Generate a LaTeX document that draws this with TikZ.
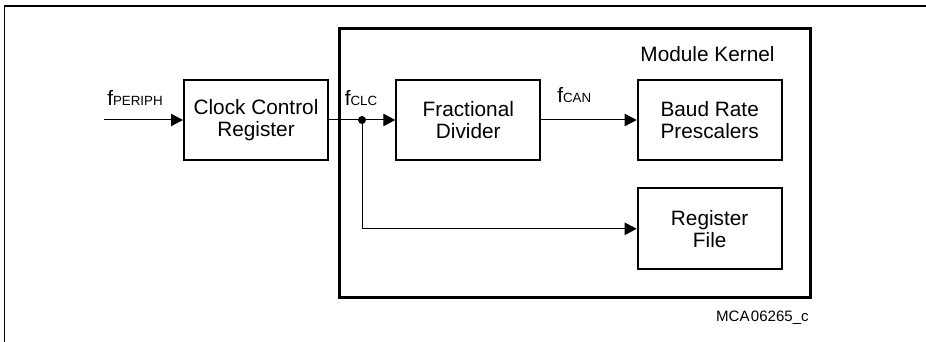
\documentclass[tikz,border=0pt]{standalone}
\usepackage{fontspec}
\setmainfont{Liberation Sans}
\usetikzlibrary{arrows.meta}
\begin{document}
\begin{tikzpicture}[x=0.75pt,y=-0.75pt,
  blk/.style={draw,line width=1.5pt,minimum width=108pt,minimum height=60pt,inner sep=0pt,align=center,font=\fontsize{15.6}{16.7}\selectfont},
  sig/.style={line width=0.75pt,-{Triangle[length=9pt,width=9.3pt]}},
  lbl/.style={inner sep=0pt,font=\fontsize{15.6}{16.7}\selectfont},
  subs/.style={}]
\useasboundingbox (0,0) rectangle (926,342);
\draw[line width=1.2pt] (4.3,342) -- (4.3,6) -- (926,6);
\draw[line width=2.2pt] (339.5,28.5) rectangle (810.5,297.5);
\node[blk] (ccr) at (256,120) {Clock Control\\Register};
\node[blk] (fd) at (468.3,120) {Fractional\\Divider};
\node[blk] (brp) at (709.7,120) {Baud Rate\\Prescalers};
\node[blk,minimum height=61pt] (rf) at (709.7,228.8) {Register\\File};
\coordinate (in) at (104,120);
\coordinate (dot) at (362,120);
\draw[sig] (in) -- (ccr.west);
\draw[sig] (ccr.east) -- (fd.west);
\draw[sig] (fd.east) -- (brp.west);
\draw[sig] (dot) |- (rf.west);
\fill (dot) circle (3pt);
\node[lbl,anchor=base west] (fperiph) at (107,106) {f{\fontsize{10}{10}\selectfont PERIPH}};
\node[lbl,anchor=base west] (fclc) at (344.5,106) {f{\fontsize{10}{10}\selectfont CLC}};
\node[lbl,anchor=base west] (fcan) at (557,103) {f{\fontsize{10}{10}\selectfont CAN}};
\node[lbl,anchor=base] (mk) at (707.5,61.5) {Module Kernel};
\node[inner sep=0pt,anchor=base east,font=\fontsize{11.3}{12}\selectfont] (id) at (809,322) {MCA\hspace{1pt}06265\_c};
\end{tikzpicture}
\end{document}
